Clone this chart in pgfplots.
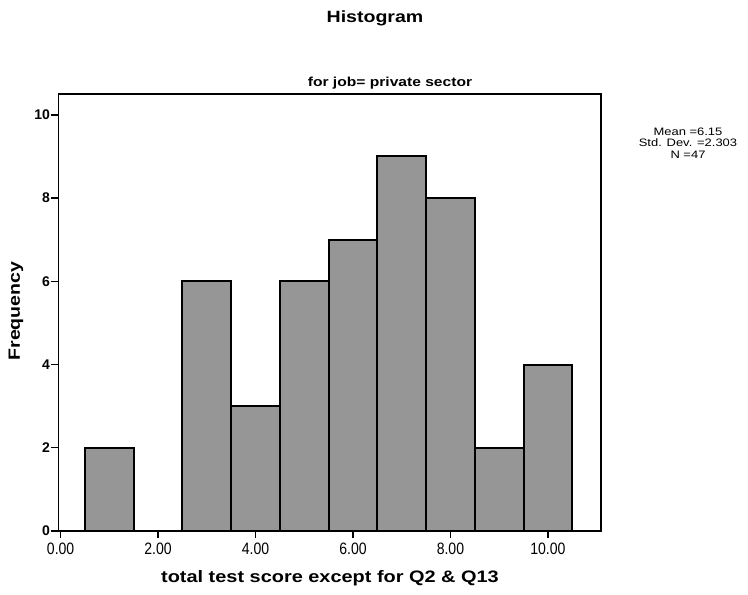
\documentclass[border=0pt]{standalone}
\usepackage{fontspec}
\setmainfont{Liberation Sans}[FakeStretch=1.2]
\newfontfamily\plainfont{Liberation Sans}
\newfontfamily\narrowfont{Liberation Sans}[FakeStretch=0.85]
\usepackage{pgfplots}
\pgfplotsset{compat=1.18}
\definecolor{bargray}{RGB}{150,150,150}
\begin{document}
\begin{tikzpicture}[x=1pt,y=1pt]
\path[use as bounding box] (0,0) rectangle (748,595);
\begin{axis}[
  at={(58.5pt,64pt)}, anchor=south west,
  scale only axis, width=542.5pt, height=437pt,
  xmin=-0.044, xmax=11.09, ymin=0, ymax=10.5,
  axis line style={line width=1.6pt},
  xtick={0,2,4,6,8,10}, ytick={0,2,4,6,8,10},
  xtick pos=bottom, ytick pos=left,
  tick align=outside, major tick length=7pt,
  tick style={line width=1.4pt, black},
  /pgf/number format/assume math mode=true,
  x tick label style={font=\narrowfont\fontsize{16.5}{16.5}\selectfont, yshift=-1pt, /pgf/number format/.cd, fixed, fixed zerofill, precision=2},
  y tick label style={font=\plainfont\bfseries\fontsize{14}{14}\selectfont, xshift=2pt},
]
\addplot[ybar, bar width=1, fill=bargray, draw=black, line width=2pt]
  coordinates {(1,2) (3,6) (4,3) (5,6) (6,7) (7,9) (8,8) (9,2) (10,4)};
\end{axis}
\node[font=\bfseries\fontsize{16.3}{16.3}\selectfont] at (375,577) {Histogram};
\node[font=\bfseries\fontsize{13}{13}\selectfont] at (390,512) {for job= private sector};
\node[font=\bfseries\fontsize{16.3}{16.3}\selectfont, rotate=90] at (16,284) {Frequency};
\node[font=\bfseries\fontsize{16.6}{16.6}\selectfont] at (330,17) {total test score except for Q2 \& Q13};
\node[font=\fontsize{10.8}{11.7}\selectfont, align=center] at (688,452) {Mean =6.15\\Std. Dev. =2.303\\N =47};
\end{tikzpicture}
\end{document}
